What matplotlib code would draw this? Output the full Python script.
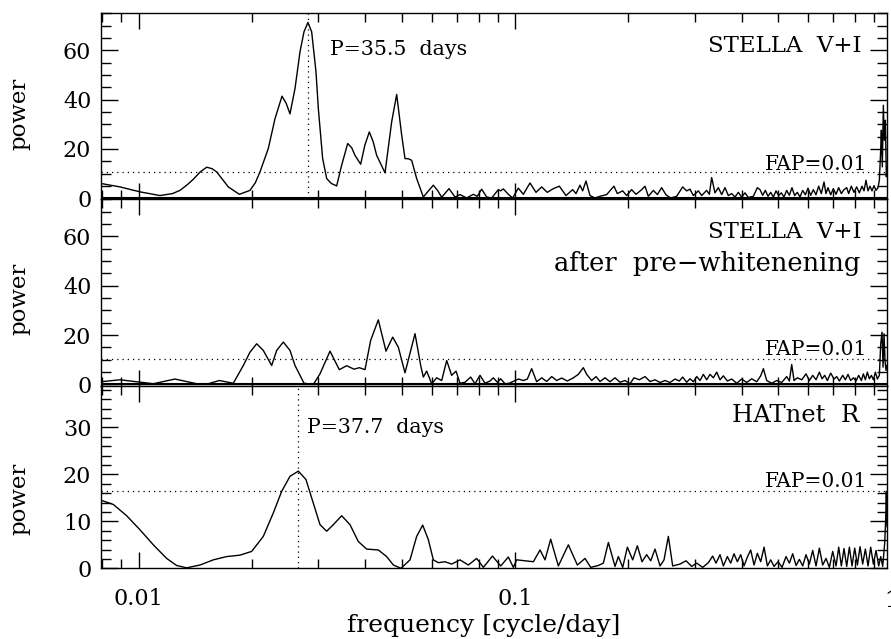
import numpy as np
import matplotlib
matplotlib.use('Agg')
import matplotlib.pyplot as plt
import matplotlib.transforms as mtransforms
from matplotlib.ticker import FixedLocator, MultipleLocator, LogLocator, NullFormatter, FixedFormatter

plt.rcParams['font.family'] = ['DejaVu Serif']

# periodograms: log10(frequency [cycle/day]) and power
p1_logf = [
    -2.1001, -2.0497, -1.9965, -1.9434, -1.9100, -1.8902, -1.8700, -1.8548, -1.8371, -1.8193,
    -1.8050, -1.7928, -1.7618, -1.7325, -1.7042, -1.6900, -1.6776, -1.6555, -1.6377, -1.6191,
    -1.6080, -1.5979, -1.5846, -1.5713, -1.5607, -1.5502, -1.5403, -1.5288, -1.5226, -1.5111,
    -1.5004, -1.4880, -1.4739, -1.4606, -1.4446, -1.4340, -1.4252, -1.4101, -1.3990, -1.3871,
    -1.3770, -1.3676, -1.3454, -1.3277, -1.3144, -1.3011, -1.2923, -1.2830, -1.2746, -1.2613,
    -1.2436, -1.2300, -1.2170, -1.2050, -1.1948, -1.1754, -1.1594, -1.1461, -1.1285,
    -1.1108, -1.1001, -1.0886, -1.0753, -1.0621, -1.0443, -1.0381, -1.0310, -1.0178, -1.0062,
    -0.9912, -0.9779, -0.9602, -0.9442, -0.9292, -0.9141, -0.8982, -0.8822, -0.8645, -0.8468,
    -0.8379, -0.8273, -0.8202, -0.8114, -0.8007, -0.7874, -0.7742, -0.7564, -0.7370, -0.7281,
    -0.7139, -0.7033, -0.6900, -0.6785, -0.6634, -0.6546, -0.6457, -0.6324, -0.6218, -0.6103,
    -0.5988, -0.5864, -0.5704, -0.5545, -0.5438, -0.5350, -0.5261, -0.5128, -0.5040, -0.4907,
    -0.4836, -0.4774, -0.4686, -0.4597, -0.4508, -0.4420, -0.4331, -0.4243, -0.4154, -0.4066,
    -0.3977, -0.3888, -0.3800, -0.3667, -0.3560, -0.3490, -0.3419, -0.3348, -0.3277, -0.3206,
    -0.3135, -0.3065, -0.2994, -0.2923, -0.2852, -0.2781, -0.2710, -0.2640, -0.2569, -0.2498,
    -0.2427, -0.2356, -0.2285, -0.2214, -0.2143, -0.2072, -0.2002, -0.1931, -0.1860, -0.1789,
    -0.1736, -0.1683, -0.1612, -0.1541, -0.1470, -0.1399, -0.1328, -0.1258, -0.1186, -0.1134,
    -0.1063, -0.0992, -0.0921, -0.0850, -0.0779, -0.0726, -0.0673, -0.0620, -0.0567, -0.0514,
    -0.0460, -0.0407, -0.0354, -0.0318, -0.0283, -0.0265, -0.0239, -0.0212, -0.0186, -0.0159,
    -0.0132, -0.0115,
]
p1_power = [
    6.0, 4.6, 2.6, 1.1, 1.9, 3.2, 5.6, 7.7, 10.6, 12.6,
    12.0, 10.7, 4.6, 1.6, 3.2, 6.3, 10.7, 20.2, 32.3, 41.4,
    38.5, 34.2, 44.5, 59.4, 67.5, 71.3, 67.5, 51.2, 36.4, 16.1,
    8.0, 6.0, 5.0, 13.4, 22.2, 20.5, 17.4, 13.8, 21.5, 26.9,
    23.0, 17.4, 10.3, 31.0, 42.1, 25.6, 16.1, 16.0, 15.4, 8.0,
    0.5, 3.0, 5.3, 3.0, 0.4, 3.9, 0.5, 1.5, 0.1,
    1.6, 0.8, 3.7, 0.5, 0.1, 3.5, 3.0, 3.8, 1.6, 0.1,
    4.1, 1.6, 6.2, 2.4, 4.6, 2.4, 3.9, 4.9, 1.1, 3.5,
    1.9, 5.3, 3.0, 7.0, 1.1, 0.1, 0.8, 1.5, 4.9, 1.9,
    3.0, 1.1, 3.5, 1.6, 3.5, 4.9, 0.8, 3.2, 1.5, 4.3,
    1.4, 0.1, 0.8, 4.6, 3.0, 3.7, 1.1, 3.0, 1.1, 3.2,
    1.6, 8.4, 2.2, 4.3, 1.5, 4.3, 1.1, 1.9, 0.5, 2.4,
    0.5, 2.2, 0.3, 0.8, 4.3, 3.5, 1.2, 3.2, 0.8, 2.4,
    0.5, 3.0, 1.1, 2.2, 0.5, 3.2, 1.2, 4.3, 1.1, 2.4,
    0.5, 3.2, 1.4, 4.1, 1.2, 3.5, 1.4, 4.9, 1.9, 6.6,
    1.9, 4.3, 1.4, 3.9, 1.6, 4.3, 1.9, 3.5, 4.3, 1.9,
    4.9, 2.4, 4.6, 2.2, 4.9, 3.0, 7.3, 3.0, 4.9, 3.0,
    5.1, 3.2, 4.3, 7.3, 19.5, 27.6, 12.7, 37.7, 23.5, 31.6,
    8.7, 12.7,
]

p2_logf = [
    -2.1001, -2.0497, -2.0054, -1.9611, -1.9035, -1.8459, -1.8149, -1.7857, -1.7485, -1.7219,
    -1.7042, -1.6865, -1.6688, -1.6466, -1.6333, -1.6156, -1.5979, -1.5846, -1.5607, -1.5359,
    -1.5182, -1.4916, -1.4668, -1.4473, -1.4278, -1.4136, -1.3986, -1.3835, -1.3632, -1.3428,
    -1.3250, -1.3100, -1.2923, -1.2657, -1.2506, -1.2436, -1.2347, -1.2214, -1.2081, -1.1948,
    -1.1815, -1.1683, -1.1567, -1.1461, -1.1328, -1.1178, -1.1063, -1.0930, -1.0797, -1.0664,
    -1.0575, -1.0469, -1.0381, -1.0265, -1.0150, -0.9911, -0.9778, -0.9672, -0.9557, -0.9424,
    -0.9291, -0.9158, -0.9025, -0.8892, -0.8760, -0.8609, -0.8449, -0.8317, -0.8184, -0.8095,
    -0.7962, -0.7847, -0.7741, -0.7608, -0.7475, -0.7342, -0.7209, -0.7076, -0.6944, -0.6837,
    -0.6696, -0.6545, -0.6412, -0.6279, -0.6146, -0.6013, -0.5881, -0.5748, -0.5633, -0.5544,
    -0.5438, -0.5349, -0.5261, -0.5172, -0.5083, -0.4995, -0.4906, -0.4818, -0.4729, -0.4640,
    -0.4552, -0.4463, -0.4357, -0.4242, -0.4109, -0.3976, -0.3843, -0.3710, -0.3577, -0.3471,
    -0.3400, -0.3312, -0.3179, -0.3046, -0.2913, -0.2780, -0.2709, -0.2647, -0.2585, -0.2497,
    -0.2381, -0.2267, -0.2178, -0.2089, -0.2001, -0.1912, -0.1842, -0.1771, -0.1700, -0.1611,
    -0.1522, -0.1452, -0.1381, -0.1292, -0.1221, -0.1151, -0.1080, -0.1009, -0.0938, -0.0867,
    -0.0796, -0.0743, -0.0690, -0.0637, -0.0583, -0.0530, -0.0477, -0.0424, -0.0371, -0.0318,
    -0.0282, -0.0247, -0.0220, -0.0194, -0.0167, -0.0141, -0.0115,
]
p2_power = [
    1.1, 1.9, 1.1, 0.3, 2.2, 0.3, 0.3, 1.6, 0.5, 7.7,
    13.1, 16.5, 13.8, 7.7, 13.8, 17.2, 13.8, 7.7, 0.5, 0.0,
    4.3, 13.5, 6.0, 7.6, 6.2, 6.8, 6.0, 17.9, 26.2, 13.5,
    19.2, 15.1, 4.7, 20.6, 7.7, 3.0, 5.4, 0.3, 2.7, 1.6,
    9.7, 3.7, 5.4, 0.5, 0.9, 3.0, 0.3, 3.7, 0.5, 1.4,
    2.7, 0.9, 2.3, 0.3, 0.5, 2.2, 1.6, 2.2, 6.4, 1.1,
    2.7, 1.2, 3.2, 1.6, 2.6, 1.4, 2.7, 4.1, 6.8, 4.1,
    1.6, 3.2, 1.2, 2.7, 1.1, 2.7, 0.9, 1.6, 0.3, 2.7,
    1.9, 3.2, 1.2, 1.9, 0.8, 1.6, 0.8, 2.2, 1.4, 3.0,
    0.9, 2.3, 1.1, 3.2, 1.6, 4.1, 1.9, 4.1, 2.7, 5.0,
    1.9, 3.5, 1.4, 2.2, 0.5, 2.2, 0.8, 2.3, 1.1, 3.5,
    6.4, 1.6, 0.5, 1.6, 0.8, 3.2, 1.4, 8.1, 1.6, 2.7,
    1.9, 4.3, 1.6, 3.7, 1.9, 5.0, 2.3, 3.7, 1.6, 4.6,
    2.2, 3.2, 1.4, 3.7, 1.9, 4.1, 1.6, 2.7, 1.4, 3.7,
    1.6, 4.3, 1.9, 5.0, 2.3, 3.7, 1.9, 5.0, 2.2, 3.7,
    16.5, 21.2, 7.0, 20.6, 9.7, 5.7, 7.7,
]

p3_logf = [
    -2.1001, -2.0674, -2.0319, -1.9965, -1.9611, -1.9256, -1.8991, -1.8725, -1.8371, -1.8016,
    -1.7662, -1.7308, -1.6997, -1.6688, -1.6422, -1.6200, -1.5979, -1.5757, -1.5554, -1.5359,
    -1.5182, -1.5004, -1.4827, -1.4606, -1.4385, -1.4163, -1.3942, -1.3632, -1.3410, -1.3233,
    -1.3029, -1.2790, -1.2613, -1.2453, -1.2303, -1.2170, -1.2037, -1.1860, -1.1683, -1.1461,
    -1.1240, -1.1019, -1.0841, -1.0600, -1.0380, -1.0177, -1.0044, -0.9955, -0.9734, -0.9512,
    -0.9335, -0.9202, -0.9052, -0.8848, -0.8582, -0.8343, -0.8139, -0.7989, -0.7785, -0.7652,
    -0.7519, -0.7342, -0.7253, -0.7138, -0.7014, -0.6873, -0.6749, -0.6625, -0.6501, -0.6394,
    -0.6279, -0.6146, -0.6040, -0.5925, -0.5810, -0.5615, -0.5455, -0.5305, -0.5172, -0.5013,
    -0.4862, -0.4747, -0.4658, -0.4552, -0.4463, -0.4357, -0.4268, -0.4180, -0.4091, -0.4002,
    -0.3914, -0.3825, -0.3737, -0.3648, -0.3560, -0.3471, -0.3382, -0.3294, -0.3205, -0.3117,
    -0.3010, -0.2904, -0.2798, -0.2709, -0.2621, -0.2532, -0.2444, -0.2355, -0.2267, -0.2178,
    -0.2089, -0.2001, -0.1912, -0.1824, -0.1735, -0.1646, -0.1558, -0.1469, -0.1398, -0.1328,
    -0.1257, -0.1186, -0.1115, -0.1044, -0.0973, -0.0902, -0.0831, -0.0761, -0.0690, -0.0619,
    -0.0548, -0.0477, -0.0406, -0.0335, -0.0282, -0.0229, -0.0176, -0.0150, -0.0132, -0.0114,
]
p3_power = [
    14.5, 13.6, 11.2, 8.2, 5.0, 2.1, 0.6, 0.1, 0.7, 1.8,
    2.5, 2.8, 3.6, 6.8, 11.8, 16.4, 19.6, 20.7, 18.9, 13.9,
    9.3, 7.9, 9.3, 11.2, 9.3, 5.7, 4.1, 3.9, 2.5, 0.7,
    0.0, 1.8, 6.8, 9.2, 6.1, 1.8, 1.2, 1.4, 0.9, 1.8,
    0.7, 2.1, 0.2, 2.6, 0.5, 2.4, 0.2, 1.8, 1.6, 1.4,
    3.9, 1.8, 6.2, 0.5, 5.0, 0.7, 2.1, 0.2, 0.6, 1.1,
    5.5, 0.4, 2.5, 0.2, 4.5, 1.8, 4.8, 1.4, 2.9, 1.6,
    4.1, 0.5, 1.8, 6.8, 0.5, 0.9, 1.6, 0.4, 1.1, 0.2,
    1.2, 2.6, 1.1, 2.9, 0.5, 2.5, 1.1, 3.1, 1.4, 2.9,
    0.5, 2.4, 3.9, 0.7, 3.2, 1.4, 4.5, 0.5, 1.8, 0.4,
    1.4, 0.2, 2.5, 1.1, 3.1, 0.6, 1.9, 0.5, 2.9, 0.9,
    3.8, 0.5, 4.3, 0.7, 2.1, 0.2, 3.6, 0.5, 4.5, 0.5,
    4.2, 0.4, 4.5, 0.5, 4.3, 0.7, 4.6, 0.9, 4.1, 0.5,
    4.5, 0.9, 3.8, 0.5, 2.5, 0.4, 5.4, 10.4, 16.4, 8.9,
]

fap_levels = [10.5, 10.3, 16.4]
marked_periods = {0: 35.5, 2: 37.7}
panel_names = [['STELLA  V+I'], ['STELLA  V+I', 'after  pre\u2212whitenening'], ['HATnet  R']]
ylims = [(-0.5, 75), (-0.5, 75), (0, 38.9)]
y_major = [20, 20, 10]
y_minor = [5, 5, 2]

W, H = 891, 639
fig = plt.figure(figsize=(W / 100, H / 100), dpi=100)

left, right = 101, 887
panel_px = [(13.3, 199.5), (199.5, 385.7), (385.7, 568.3)]
xlim = (10 ** -2.1001, 10 ** -0.0115)
dotted = (0, (1, 3.2))

series = [(p1_logf, p1_power), (p2_logf, p2_power), (p3_logf, p3_power)]
axes = []
for i, (top, bot) in enumerate(panel_px):
    ax = fig.add_axes([left / W, 1 - bot / H, (right - left) / W, (bot - top) / H])
    logf, power = series[i]
    ax.plot(10 ** np.asarray(logf), power, color='black', lw=1.0)
    ax.set_xscale('log')
    ax.set_xlim(*xlim)
    ax.set_ylim(*ylims[i])
    if ylims[i][0] < 0:
        ax.axhline(0, color='black', lw=1.5)
    ax.axhline(fap_levels[i], color='black', lw=0.9, ls=dotted)
    if i in marked_periods:
        ax.vlines(1 / marked_periods[i], 0, ylims[i][1], color='black', lw=0.9, linestyles=[dotted])

    ax.xaxis.set_major_locator(FixedLocator([0.01, 0.1, 1.0]))
    ax.xaxis.set_minor_locator(LogLocator(base=10, subs=np.arange(2, 10)))
    ax.xaxis.set_minor_formatter(NullFormatter())
    ax.yaxis.set_major_locator(MultipleLocator(y_major[i]))
    ax.yaxis.set_minor_locator(MultipleLocator(y_minor[i]))
    ax.tick_params(which='both', direction='in', top=True, right=True, width=1.0, labelsize=16)
    ax.tick_params(axis='x', which='major', length=11.5, pad=14)
    ax.tick_params(axis='x', which='minor', length=6.5)
    ax.tick_params(axis='y', which='major', length=12, pad=7)
    ax.tick_params(axis='y', which='minor', length=7)
    for s in ax.spines.values():
        s.set_linewidth(1.0)
    if i < 2:
        ax.tick_params(axis='x', labelbottom=False)
    else:
        ax.xaxis.set_major_formatter(FixedFormatter(['0.01', '0.1', '1']))
    axes.append(ax)

# the "1" label sits on the figure edge, just past the axis range (cut in the original too)
trans = mtransforms.blended_transform_factory(axes[2].transData, axes[2].transAxes)
axes[2].text(1.0, -0.12, '1', transform=trans, ha='center', va='top', fontsize=16, clip_on=False)

ft = fig.transFigure
fig.text(862 / W, 1 - 52 / H, panel_names[0][0], transform=ft, ha='right', va='baseline', fontsize=16.5)
fig.text(862 / W, 1 - 237.7 / H, panel_names[1][0], transform=ft, ha='right', va='baseline', fontsize=16.5)
fig.text(860 / W, 1 - 271 / H, panel_names[1][1], transform=ft, ha='right', va='baseline', fontsize=18.5)
fig.text(859.3 / W, 1 - 421.7 / H, panel_names[2][0], transform=ft, ha='right', va='baseline', fontsize=17.5)

for base in [170, 355, 487.3]:
    fig.text(867 / W, 1 - base / H, 'FAP=0.01', transform=ft, ha='right', va='baseline', fontsize=14.5)

fig.text(330 / W, 1 - 55 / H, 'P=35.5  days', transform=ft, ha='left', va='baseline', fontsize=14.8)
fig.text(306.7 / W, 1 - 433.3 / H, 'P=37.7  days', transform=ft, ha='left', va='baseline', fontsize=14.8)

for yc in [113.5, 299, 499]:
    fig.text(19 / W, 1 - yc / H, 'power', transform=ft, rotation=90, ha='center', va='center', fontsize=16.5)

fig.text(484 / W, 1 - 632 / H, 'frequency [cycle/day]', transform=ft, ha='center', va='baseline', fontsize=18)

fig.savefig('out.png', dpi=100)
